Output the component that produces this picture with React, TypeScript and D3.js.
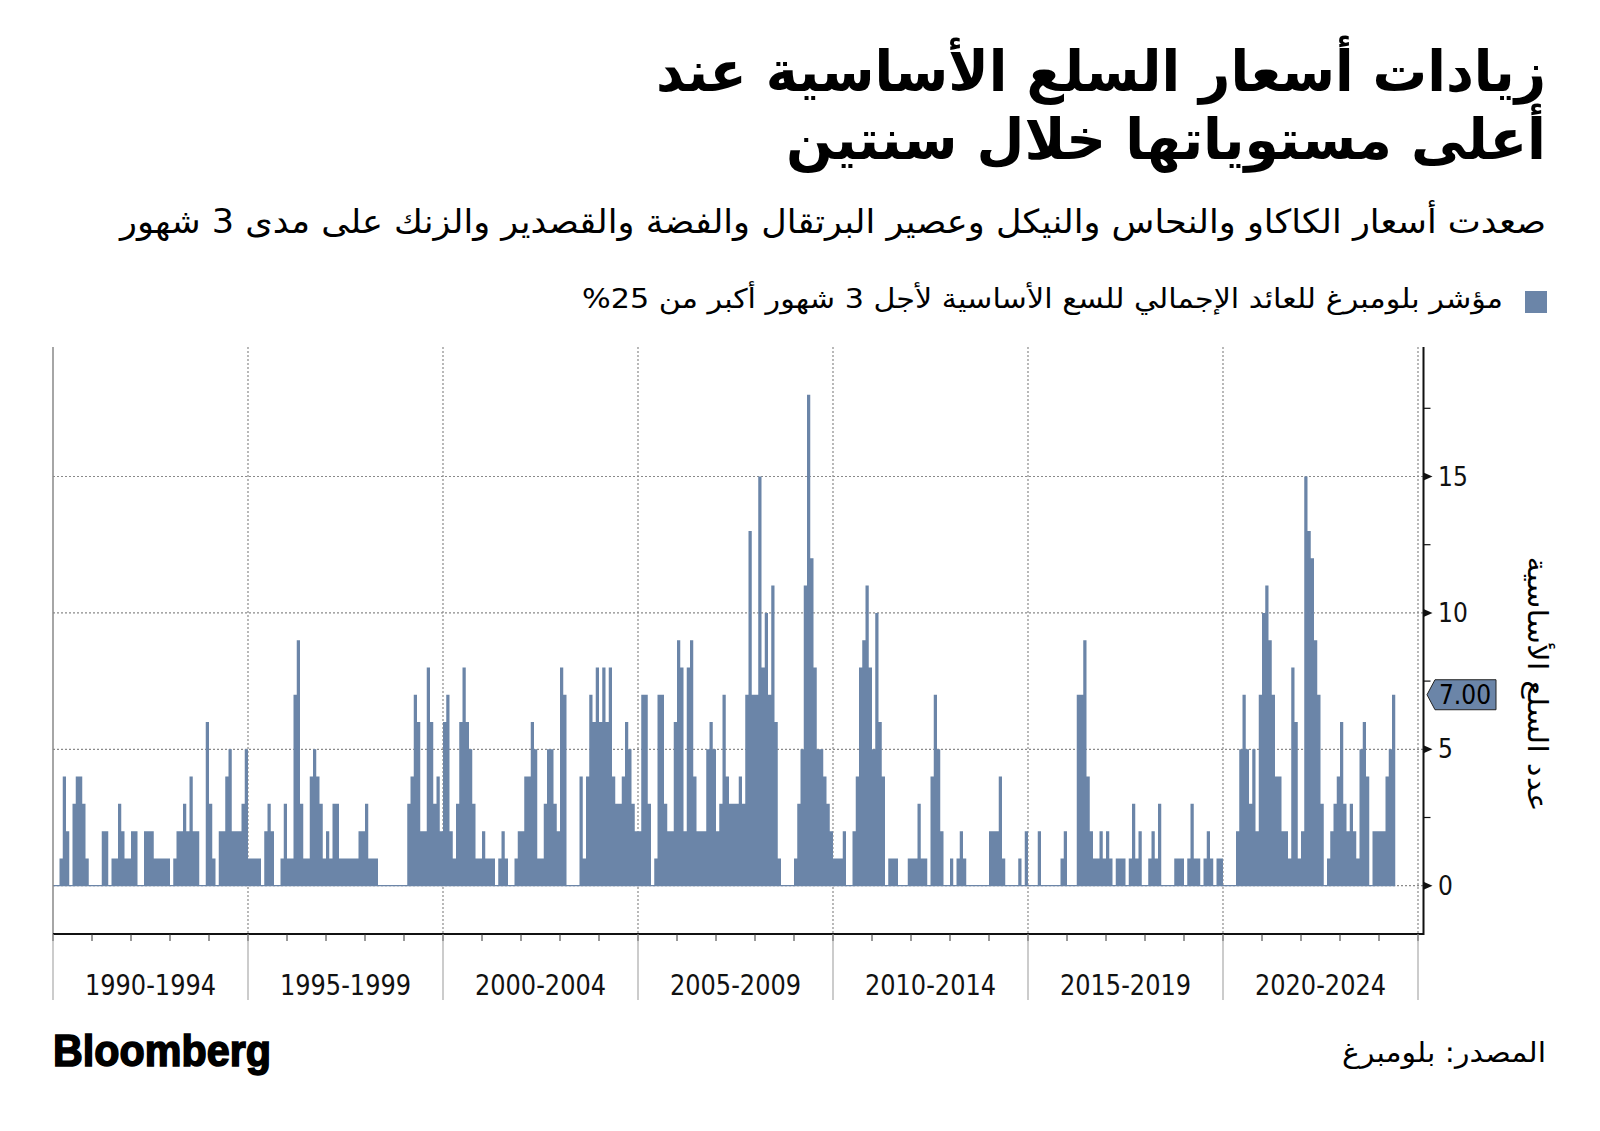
import React from "react";
import * as d3 from "d3";

// ---------------- data (monthly) ----------------
const startYear = 1990;
const values1990_1994 = [
  0, 0, 1, 4, 2, 0, 3, 4, 4, 3, 1, 0,
  0, 0, 0, 2, 2, 0, 1, 1, 3, 2, 1, 1,
  2, 2, 0, 0, 2, 2, 2, 1, 1, 1, 1, 1,
  0, 1, 2, 2, 3, 2, 4, 2, 2, 0, 0, 6,
  3, 1, 0, 2, 2, 4, 5, 2, 2, 2, 3, 5,
];
const values1995_1999 = [
  1, 1, 1, 1, 0, 2, 3, 2, 0, 0, 1, 3,
  1, 1, 7, 9, 3, 1, 1, 4, 5, 4, 3, 1,
  2, 1, 3, 3, 1, 1, 1, 1, 1, 1, 2, 2,
  3, 1, 1, 1, 0, 0, 0, 0, 0, 0, 0, 0,
  0, 3, 4, 7, 6, 2, 2, 8, 6, 3, 4, 2,
];
const values2000_2004 = [
  6, 7, 2, 1, 3, 6, 8, 6, 5, 3, 1, 1,
  2, 1, 1, 1, 0, 1, 2, 1, 0, 0, 1, 2,
  2, 4, 4, 6, 5, 1, 1, 3, 5, 5, 3, 2,
  8, 7, 0, 0, 0, 0, 4, 1, 4, 7, 6, 8,
  6, 8, 6, 8, 4, 3, 3, 4, 6, 5, 3, 2,
];
const values2005_2009 = [
  2, 7, 7, 3, 0, 1, 7, 7, 3, 2, 2, 6,
  9, 8, 2, 8, 9, 4, 2, 2, 2, 5, 6, 5,
  2, 3, 7, 4, 3, 3, 3, 4, 3, 7, 13, 7,
  7, 15, 8, 10, 7, 11, 6, 1, 0, 0, 0, 0,
  1, 3, 5, 11, 18, 12, 8, 5, 5, 4, 3, 2,
];
const values2010_2014 = [
  1, 1, 1, 2, 0, 0, 2, 4, 8, 9, 11, 8,
  5, 10, 6, 4, 0, 1, 1, 1, 0, 0, 0, 1,
  1, 1, 3, 1, 1, 0, 4, 7, 5, 2, 0, 0,
  1, 0, 1, 2, 1, 0, 0, 0, 0, 0, 0, 0,
  2, 2, 2, 4, 1, 0, 0, 0, 0, 1, 0, 2,
];
const values2015_2019 = [
  0, 0, 0, 2, 0, 0, 0, 0, 0, 0, 1, 2,
  0, 0, 0, 7, 7, 9, 4, 2, 1, 1, 2, 1,
  2, 1, 0, 1, 1, 1, 0, 1, 3, 1, 2, 0,
  0, 1, 2, 1, 3, 0, 0, 0, 0, 1, 1, 1,
  0, 1, 3, 1, 1, 0, 1, 2, 1, 0, 1, 1,
];
const values2020_2024 = [
  0, 0, 0, 0, 2, 5, 7, 5, 3, 5, 2, 7,
  10, 11, 9, 7, 4, 4, 2, 2, 1, 8, 6, 1,
  2, 15, 13, 12, 9, 7, 3, 0, 1, 2, 3, 4,
  6, 3, 2, 3, 2, 1, 5, 6, 4, 0, 2, 2,
  2, 2, 4, 5, 7,
];

const periodStarts = [1990, 1995, 2000, 2005, 2010, 2015, 2020];
const periodLabels = ["1990-1994", "1995-1999", "2000-2004", "2005-2009", "2010-2014", "2015-2019", "2020-2024"];
const yTicks = [0, 5, 10, 15];
const yMinorTicks = [2.5, 7.5, 12.5, 17.5];
const lastValueLabel = "7.00";

const titleLine1 = "زيادات أسعار السلع الأساسية عند";
const titleLine2 = "أعلى مستوياتها خلال سنتين";
const subtitle = "صعدت أسعار الكاكاو والنحاس والنيكل وعصير البرتقال والفضة والقصدير والزنك على مدى 3 شهور";
const legendText = "مؤشر بلومبرغ للعائد الإجمالي للسع الأساسية لأجل 3 شهور أكبر من \u2066%25\u2069";
const yAxisTitle = "عدد السلع الأساسية";
const sourceText = "المصدر: بلومبرغ";

const BAR = "#6b85a8";
const ARABIC = "'DejaVu Sans', sans-serif";
const NUM = "'DejaVu Sans Condensed', 'DejaVu Sans', sans-serif";

export default function App() {
  const W = 1600;
  const H = 1131;
  const plotL = 53;
  const plotR = 1423.5;
  const plotT = 347;
  const plotB = 934;

  const x = d3.scaleLinear().domain([1990, 2025]).range([53, 1418]);
  const y = d3.scaleLinear().domain([0, 15]).range([885.7, 476.5]);

  const all = [
    ...values1990_1994,
    ...values1995_1999,
    ...values2000_2004,
    ...values2005_2009,
    ...values2010_2014,
    ...values2015_2019,
    ...values2020_2024,
  ];
  const pts = all.map((v, i) => ({ t: startYear + i / 12, v }));
  const endT = startYear + all.length / 12;
  const stepPts = [...pts, { t: endT, v: all[all.length - 1] }];
  const areaGen = d3
    .area<{ t: number; v: number }>()
    .x((d) => x(d.t))
    .y0(y(0))
    .y1((d) => y(d.v))
    .curve(d3.curveStepAfter);
  const areaPath = areaGen(stepPts) || "";

  const lastV = all[all.length - 1];
  const years = d3.range(1990, 2026);
  const vGrid = [...periodStarts.slice(1), 2025];
  const yLast = y(lastV);

  return (
    <div style={{ position: "absolute", left: 0, top: 0, width: W, height: H, background: "#fff" }}>
      <svg width={W} height={H} viewBox={`0 0 ${W} ${H}`} style={{ display: "block" }}>
        <rect x={0} y={0} width={W} height={H} fill="#fff" />

        {/* Title */}
        <text x={1546} y={91} direction="rtl" textAnchor="start" fontFamily={ARABIC} fontWeight="bold"
          fontSize={56} textLength={890} lengthAdjust="spacingAndGlyphs" fill="#000">{titleLine1}</text>
        <text x={1546} y={159} direction="rtl" textAnchor="start" fontFamily={ARABIC} fontWeight="bold"
          fontSize={56} textLength={760} lengthAdjust="spacingAndGlyphs" fill="#000">{titleLine2}</text>

        {/* Subtitle */}
        <text x={1546} y={233} direction="rtl" textAnchor="start" fontFamily={ARABIC}
          fontSize={33} textLength={1426} lengthAdjust="spacingAndGlyphs" fill="#000">{subtitle}</text>

        {/* Legend */}
        <rect x={1525} y={291} width={22} height={22} fill={BAR} />
        <text x={1503} y={308} direction="rtl" textAnchor="start" fontFamily={ARABIC}
          fontSize={27} textLength={921} lengthAdjust="spacingAndGlyphs" fill="#000">{legendText}</text>

        {/* grid */}
        {yTicks.map((t) => (
          <line key={"hg" + t} x1={plotL} x2={plotR} y1={y(t)} y2={y(t)} stroke="#8a8a8a"
            strokeWidth={1.2} strokeDasharray="2,2" />
        ))}
        {vGrid.map((t) => (
          <line key={"vg" + t} x1={x(t)} x2={x(t)} y1={plotT} y2={plotB} stroke="#8a8a8a"
            strokeWidth={1.2} strokeDasharray="2,2" />
        ))}

        {/* zero baseline of series */}
        <line x1={x(startYear)} x2={x(endT)} y1={y(0)} y2={y(0)} stroke={BAR} strokeWidth={1.3} />

        {/* bars as one stepped shape */}
        <path d={areaPath} fill={BAR} />

        {/* left axis */}
        <line x1={plotL} x2={plotL} y1={plotT} y2={plotB} stroke="#888" strokeWidth={1.5} />
        {/* bottom axis */}
        <line x1={plotL} x2={plotR} y1={plotB} y2={plotB} stroke="#111" strokeWidth={2} />
        {/* right axis */}
        <line x1={plotR} x2={plotR} y1={plotT} y2={plotB + 1} stroke="#111" strokeWidth={2} />

        {/* x ticks */}
        {years.map((yr) => (
          <line key={"xt" + yr} x1={x(yr)} x2={x(yr)} y1={plotB} y2={plotB + 7} stroke="#333" strokeWidth={1} />
        ))}
        {[...periodStarts, 2025].map((t) => (
          <line key={"xm" + t} x1={x(t)} x2={x(t)} y1={plotB} y2={1000} stroke="#999" strokeWidth={1} />
        ))}
        {periodStarts.map((t, i) => (
          <text key={"xl" + t} x={(x(t) + x(t + 5)) / 2} y={995} textAnchor="middle" fontFamily={NUM}
            fontSize={28} textLength={131} lengthAdjust="spacingAndGlyphs" fill="#111">{periodLabels[i]}</text>
        ))}

        {/* y ticks */}
        {yMinorTicks.map((t) => (
          <line key={"ym" + t} x1={plotR} x2={plotR + 7} y1={y(t)} y2={y(t)} stroke="#111" strokeWidth={1.2} />
        ))}
        {yTicks.map((t) => (
          <g key={"yt" + t}>
            <path d={`M${plotR},${y(t) - 4}L${plotR + 9},${y(t)}L${plotR},${y(t) + 4}Z`} fill="#111" />
            <text x={1438} y={y(t) + 9} fontFamily={NUM} fontSize={26} fill="#111">{t}</text>
          </g>
        ))}

        {/* last value tag */}
        <path d={`M1427,${yLast}L1435,${yLast - 15}L1496,${yLast - 15}L1496,${yLast + 15}L1435,${yLast + 15}Z`}
          fill={BAR} stroke="#222" strokeWidth={1} />
        <text x={1465} y={yLast + 9} textAnchor="middle" fontFamily={NUM} fontSize={26} fill="#000">{lastValueLabel}</text>

        {/* y axis title */}
        <text transform={`translate(1528,${684}) rotate(90)`} direction="rtl" textAnchor="middle"
          fontFamily={ARABIC} fontSize={28} textLength={255} lengthAdjust="spacingAndGlyphs" fill="#000">{yAxisTitle}</text>

        {/* footer */}
        <text x={53} y={1066} fontFamily="'Liberation Sans', Arial, sans-serif" fontWeight="bold" fontSize={44}
          textLength={218} lengthAdjust="spacingAndGlyphs" fill="#000" stroke="#000" strokeWidth={1.6}>Bloomberg</text>
        <text x={1546} y={1062} direction="rtl" textAnchor="start" fontFamily={ARABIC} fontSize={28}
          textLength={204} lengthAdjust="spacingAndGlyphs" fill="#000">{sourceText}</text>
      </svg>
    </div>
  );
}
